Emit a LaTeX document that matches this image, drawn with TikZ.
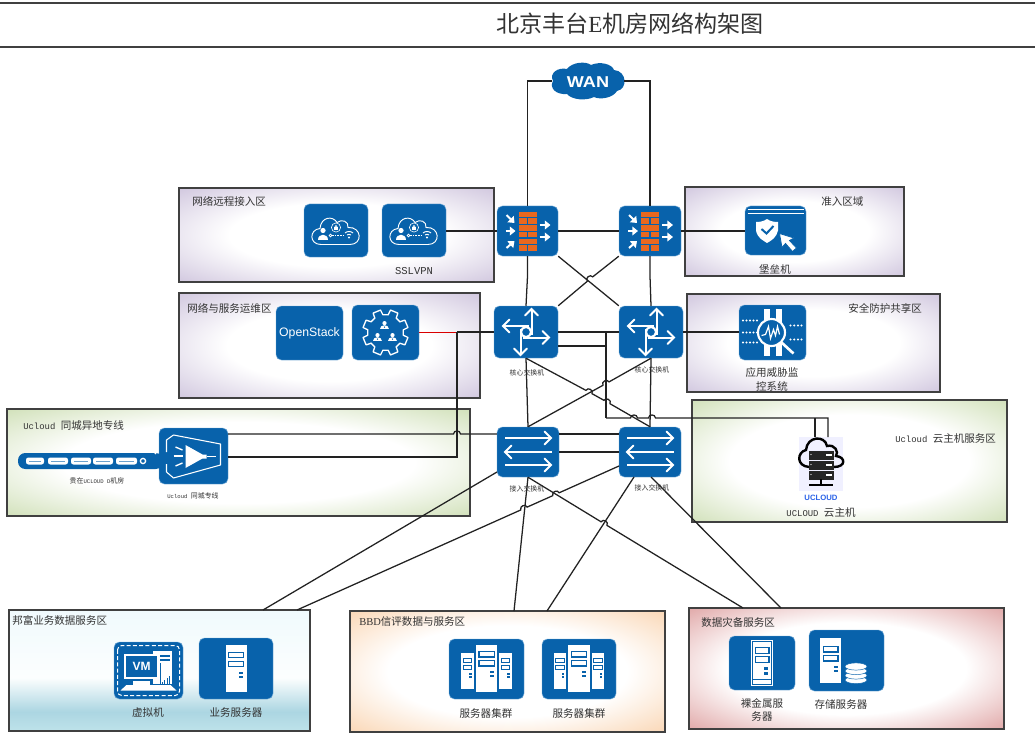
\documentclass[tikz,border=0pt]{standalone}
\usepackage{fontspec}
\setmainfont{Noto Sans CJK SC}
\newfontfamily\lat{Liberation Mono}
\newfontfamily\sans{Liberation Sans}
\newfontfamily\ser{Liberation Serif}
\usetikzlibrary{calc,arrows.meta,shapes.geometric}
\definecolor{ibl}{HTML}{0862AB}
\definecolor{ibd}{HTML}{6FA8D6}
\definecolor{ln}{HTML}{222222}
\definecolor{tx}{HTML}{333333}
\definecolor{org}{HTML}{E9681F}
\definecolor{ucb}{HTML}{2A62E8}
\definecolor{cpur}{RGB}{208,198,222}
\definecolor{cgrn}{RGB}{208,224,184}
\definecolor{cora}{RGB}{250,214,180}
\definecolor{cred}{RGB}{224,166,166}
\definecolor{bla}{RGB}{190,226,234}
\definecolor{blb}{RGB}{172,214,226}
\definecolor{blc}{RGB}{252,254,254}
\definecolor{bld}{RGB}{240,250,253}
\pgfdeclareradialshading{zpurple}{\pgfpointorigin}{color(0bp)=(white);color(17bp)=(white);color(36bp)=(cpur)}
\pgfdeclareradialshading{zgreen}{\pgfpointorigin}{color(0bp)=(white);color(19bp)=(white);color(36bp)=(cgrn)}
\pgfdeclareradialshading{zorange}{\pgfpointorigin}{color(0bp)=(white);color(19bp)=(white);color(36bp)=(cora)}
\pgfdeclareradialshading{zred}{\pgfpointorigin}{color(0bp)=(white);color(19bp)=(white);color(36bp)=(cred)}
\pgfdeclareverticalshading{zblue}{100bp}{color(0bp)=(bla);color(25bp)=(bla);color(33bp)=(blb);color(47bp)=(blc);color(75bp)=(bld);color(100bp)=(bld)}
\tikzset{
 x=0.75pt,y=-0.75pt,
 zone/.style={draw=black!75,line width=0.9pt,shading=#1,inner sep=0pt},
 iconbox/.style={draw=ibd,line width=0.35pt,fill=ibl,rounded corners=4pt,inner sep=0pt},
 conn/.style={draw=ln,line width=0.95pt,line join=miter},
 wl/.style={draw=white,line width=1.5pt},
 wthin/.style={draw=white,line width=0.7pt},
 zlabel/.style={text=tx,inner sep=0pt,font=\fontsize{7.9}{9.6}\selectfont},
 ilabel/.style={text=tx,inner sep=0pt,align=center,font=\fontsize{7.9}{10.3}\selectfont},
 tinylabel/.style={text=tx,inner sep=0pt,font=\fontsize{5.2}{6}\selectfont},
 sld/.style={-{Triangle[length=4.2pt,width=6.5pt]}},
}
\newcommand{\zonebox}[6]{% name shade x1 y1 x2 y2
 \node[zone=#2,minimum width={(#5-#3)*0.75pt},minimum height={(#6-#4)*0.75pt}] (#1) at ({(#3+#5)/2},{(#4+#6)/2}) {};}
\newcommand{\iconnode}[5]{% name x1 y1 x2 y2
 \node[iconbox,minimum width={(#4-#2)*0.75pt},minimum height={(#5-#3)*0.75pt}] (#1) at ({(#2+#4)/2},{(#3+#5)/2}) {};}
% straight connector A -- B with a hop at J, A to the left of B
\newcommand{\hopline}[3]{\draw[conn] (#1) -- ($(#2)!2.6pt!(#1)$) to[bend left=90,looseness=1.5] ($(#2)!2.6pt!(#3)$) -- (#3);}
% open arrow: rotation, start x, tip x, offset y
\newcommand{\oarr}[4]{\begin{scope}[rotate=#1]
 \draw[wl] (#2,#4) -- (#3,#4);
 \draw[wl,line cap=round,line join=miter] ({#3-6.5},{#4-6.5}) -- (#3,#4) -- ({#3-6.5},{#4+6.5});
\end{scope}}
\newcommand{\fwicon}[1]{\begin{scope}[shift={(#1.center)}]
 \foreach \yy/\sp in {-19.3/0,-12.6/1,-5.9/0,0.8/1,7.5/0,14.2/1}{
  \ifnum\sp=0 \fill[org] (-9,\yy) rectangle (9,\yy+5.4);
  \else \fill[org] (-9,\yy) rectangle (-0.7,\yy+5.4); \fill[org] (0.7,\yy) rectangle (9,\yy+5.4);\fi}
 \draw[wl,sld] (-21,-16) -- (-13,-8);
 \draw[wl,sld] (-22,0) -- (-12,0);
 \draw[wl,sld] (-21,17) -- (-13,10);
 \draw[wl,sld] (12,-6) -- (23,-6);
 \draw[wl,sld] (12,6) -- (23,6);
\end{scope}}
\newcommand{\routericon}[1]{\begin{scope}[shift={(#1.center)}]
 \oarr{0}{-3}{23}{5.5}
 \oarr{90}{-3}{23}{5.5}
 \oarr{180}{-3}{23}{6}
 \oarr{270}{-3}{23}{5.5}
 \draw[white,line width=1.5pt,fill=ibl] (0,0) circle (5);
\end{scope}}
\newcommand{\switchicon}[1]{\begin{scope}[shift={(#1.center)}]
 \oarr{0}{-23}{23}{-14}
 \oarr{180}{-24}{23}{0}
 \oarr{0}{-23}{23}{13}
\end{scope}}
\newcommand{\vpnicon}[1]{\begin{scope}[shift={(#1.center)}]
 \draw[wthin] (-15,14) .. controls (-27,14) and (-27,-1) .. (-16,-2)
   .. controls (-15,-14) and (-3,-15) .. (1,-8)
   .. controls (6,-12) and (13,-9) .. (12,-3)
   .. controls (26,-4) and (27,14) .. (14,14) -- cycle;
 \fill[white] (-13,0) circle (2.6);
 \fill[white] (-18,9) .. controls (-18,2) and (-8,2) .. (-8,9) -- cycle;
 \draw[white,line width=0.45pt] (0,-3) circle (4.6);
 \fill[white] (-2,-3.4) rectangle (2,-0.6);
 \draw[white,line width=0.55pt] (-1.2,-3.4) arc (180:0:1.2 and -1.6);
 \draw[white,line width=0.55pt] (-5.5,5) circle (1.4);
 \draw[white,line width=0.6pt,dash pattern=on 1.3pt off 0.7pt] (-4,5) -- (8,5);
 \draw[white,line width=0.7pt] (9,2.5) .. controls (11,0.5) and (15,0.5) .. (17,2.5);
 \draw[white,line width=0.7pt] (11,4.5) .. controls (12,3.5) and (14,3.5) .. (15,4.5);
 \fill[white] (13,7) circle (1.1);
\end{scope}}
\newcommand{\minipers}[2]{\fill[white] (#1,{#2-2.4}) circle (2.1);\fill[white] ({#1-4.2},{#2+3.8}) .. controls ({#1-4.2},{#2-1.5}) and ({#1+4.2},{#2-1.5}) .. ({#1+4.2},{#2+3.8}) -- cycle;\fill[ibl] (#1,{#2+1.6}) circle (0.7);}
\newcommand{\gearicon}[1]{\begin{scope}[shift={(#1.center)}]
 \foreach \i in {0,45,...,315}{
  \draw[white,line width=1pt,line join=round,line cap=round]
   ({\i+22.5-14}:18) -- ({\i+22.5-10}:23) -- ({\i+22.5+10}:23) -- ({\i+22.5+14}:18) -- ({\i+22.5+31}:18);
 }
 \minipers{-1}{-7}\minipers{-8}{5}\minipers{7}{5}
\end{scope}}
\newcommand{\bastionicon}[1]{\begin{scope}[shift={(#1.center)}]
 \draw[white,line width=0.6pt] (-28,-21) -- (28,-21);
 \draw[white,line width=0.6pt] (-28,-17.5) -- (28,-17.5);
 \fill[white] (-8.5,-11.5) .. controls (-12,-9) and (-16,-8.5) .. (-19.5,-8.5) -- (-19.5,0) .. controls (-18,8) and (-12,10) .. (-8.5,12.5) .. controls (-4,10) and (1,7) .. (2.5,0) -- (2.5,-8.5) .. controls (-1,-8.5) and (-5,-9) .. (-8.5,-11.5) -- cycle;
 \draw[ibl,line width=1.5pt] (-14,-1.5) -- (-9,3) -- (-2,-4.5);
 \fill[white,draw=ibl,line width=0.6pt] (4,3) -- (6.5,17) -- (10,13) -- (17,21) -- (21,17.5) -- (14,10) -- (18.5,7.5) -- cycle;
\end{scope}}
\newcommand{\threaticon}[1]{\begin{scope}[shift={(#1.center)}]
 \fill[white] (-8.7,-24) rectangle (-2.5,23);
 \fill[white] (3,-24) rectangle (9,23);
 \foreach \xx in {-29.5,-26,-22.5,-19,-15.5}{\foreach \yy in {-12,0,10}{\fill[white] (\xx,\yy) circle (1.15);}}
 \foreach \xx in {18,21.7,25.4,29}{\foreach \yy in {-7,7}{\fill[white] (\xx,\yy) circle (1.15);}}
 \draw[white,line width=1.6pt,fill=ibl] (-1,0) circle (13.5);
 \draw[white,line width=2pt] (9,10) -- (21,21);
 \draw[white,line width=0.9pt] (-11,3) -- (-7,2) -- (-4,-6) -- (-2,6) -- (1,-3) -- (3,3) -- (5,-6) -- (7,2);
\end{scope}}
\newcommand{\beamicon}[1]{\begin{scope}[shift={(#1.center)}]
 \draw[white,line width=0.8pt,line join=round] (-27,-4) -- (-27,-16) -- (-20,-21) -- (27,-12) -- (27,9) -- (-20,22) -- (-27,16) -- (-27,8);
 \fill[white] (-8,-11) -- (-8,12) -- (9,2.5) -- (13,2.5) -- (13,-1.5) -- (9,-1.5) -- cycle;
 \draw[white,line width=0.9pt] (13,0.5) -- (22,0.5);
 \draw[white,line width=1pt] (-18,-9) -- (-11,-6);
 \draw[white,line width=1pt] (-20,0) -- (-11,0);
 \draw[white,line width=1pt] (-18,10) -- (-11,7);
\end{scope}}
\newcommand{\serverglyph}[4]{% cx cy xscale yscale
\begin{scope}[shift={(#1,#2)},xscale=#3,yscale=#4]
 \fill[white] (-10.5,-23.5) rectangle (10.5,23.5);
 \fill[ibl] (-8,-17) rectangle (8,-10.5);\fill[white] (-6.8,-15.8) rectangle (6.8,-11.7);
 \fill[ibl] (-8,-8) rectangle (8,-1.5);\fill[white] (-6.8,-6.8) rectangle (6.8,-2.7);
 \fill[ibl] (3,3) rectangle (7,5);\fill[ibl] (3,7) rectangle (7,9);
\end{scope}}
\newcommand{\clustericon}[1]{\begin{scope}[shift={(#1.center)}]
 \serverglyph{-19}{2}{0.58}{0.77}\serverglyph{19}{2}{0.58}{0.77}
 \serverglyph{0}{-1}{1.03}{1}
\end{scope}}
\newcommand{\baremetalicon}[1]{\begin{scope}[shift={(#1.center)}]
 \fill[white] (-11,-23) rectangle (11,23);
 \fill[ibl] (-9.7,-21.7) rectangle (9.7,21.7);
 \fill[white] (-8.9,-20.9) rectangle (8.9,20.9);
 \fill[ibl] (-7.5,-16) rectangle (7.5,-9);\fill[white] (-6.4,-15) rectangle (6.4,-10);
 \fill[ibl] (-7.5,-7) rectangle (7.5,0);\fill[white] (-6.4,-6) rectangle (6.4,-1);
 \fill[ibl] (2,3.5) rectangle (6,6.5);\fill[ibl] (2,8.5) rectangle (6,11.5);
 \fill[ibl] (-8.9,16) rectangle (8.9,17);
\end{scope}}
\newcommand{\storageicon}[1]{\begin{scope}[shift={(#1.center)}]
 \begin{scope}[shift={(-16,0)}]\fill[white] (-10.5,-23) rectangle (10.5,22);
 \fill[ibl] (-8,-15) rectangle (8,-8);\fill[white] (-6.8,-13.8) rectangle (6.8,-9.2);
 \fill[ibl] (-8,-6) rectangle (8,1);\fill[white] (-6.8,-4.8) rectangle (6.8,-0.2);
 \fill[ibl] (3,5) rectangle (7,7);\fill[ibl] (3,9) rectangle (7,11);\end{scope}
 \foreach \yy in {19.5,15,10.5,6}{\fill[white,draw=ibl,line width=0.35pt] (9.5,\yy) ellipse (11 and 3.6);}
\end{scope}}
\newcommand{\vmicon}[1]{\begin{scope}[shift={(#1.center)}]
 \draw[white,line width=0.75pt,rounded corners=3.2pt,dash pattern=on 3pt off 1.7pt] (-31,-25) rectangle (31,25);
 \fill[white] (4,-20) rectangle (23,13);\fill[ibl] (7,-16) rectangle (21,-14);\fill[ibl] (7,-12) rectangle (21,-10);
 \fill[white] (-25,-17) rectangle (11,8.5);\fill[ibl] (-22.5,-14.5) rectangle (8.5,6);
 \fill[ibl] (11,-8) rectangle (12,13);
 \node[text=white,inner sep=0pt,font=\sans\bfseries\fontsize{9}{9}\selectfont] at (-7,-4) {VM};
 \fill[white] (-16,10) rectangle (1,14);
 \fill[white] (-28,20) -- (-22,14.5) -- (22,14.5) -- (28,20) -- cycle;
 \foreach \xx/\hh in {13/2,15.5/4,18/6,20.5/8}{\fill[ibl] (\xx,13) rectangle (\xx+1.3,13-\hh);}
\end{scope}}
\begin{document}
\begin{tikzpicture}
\useasboundingbox (0,0) rectangle (1035,756);
\fill[white] (0,0) rectangle (1035,756);
% title rules
\coordinate (tl1) at (0,3);\coordinate (tr1) at (1035,3);
\coordinate (tl2) at (0,47);\coordinate (tr2) at (1035,47);
\draw[black!75,line width=0.9pt] (tl1) -- (tr1);
\draw[black!75,line width=0.9pt] (tl2) -- (tr2);
\node[text=tx,inner sep=0pt,font=\fontsize{17.3}{20}\selectfont] (title) at (630,24) {北京丰台{\ser E}机房网络构架图};
% zones
\zonebox{zremote}{zpurple}{179}{188}{494}{282}
\zonebox{zops}{zpurple}{179}{293}{480}{398}
\zonebox{zadmit}{zpurple}{685}{187}{904}{276}
\zonebox{zsec}{zpurple}{687}{294}{940}{392}
\zonebox{zcloud}{zgreen}{692}{400}{1007}{522}
\zonebox{zline}{zgreen}{7}{409}{470}{516}
\zonebox{zbang}{zblue}{9}{610}{310}{731}
\zonebox{zbbd}{zorange}{350}{611}{665}{732}
\zonebox{zbak}{zred}{689}{608}{1004}{729}
% WAN cloud
\fill[ibl] (553,81) .. controls (549,73) and (558,67) .. (567,69)
 .. controls (572,62) and (586,61) .. (591,65) .. controls (600,61) and (612,64) .. (614,70)
 .. controls (627,71) and (628,89) .. (617,91) .. controls (613,98) and (600,100) .. (594,97)
 .. controls (586,101) and (572,100) .. (567,94) .. controls (556,95) and (549,88) .. (553,81) -- cycle;
\node[text=white,inner sep=0pt,xscale=1.15,font=\sans\bfseries\fontsize{11.8}{14}\selectfont] (wan) at (588,82) {WAN};
\coordinate (wanL) at (552,81);\coordinate (wanR) at (624,81);
% icon nodes
\iconnode{fwa}{497}{206}{558}{256}
\iconnode{fwb}{619}{206}{681}{256}
\iconnode{corea}{494}{306}{558}{358}
\iconnode{coreb}{619}{306}{683}{358}
\iconnode{acca}{497}{427}{559}{477}
\iconnode{accb}{619}{427}{681}{477}
\iconnode{vpna}{304}{204}{368}{257}
\iconnode{vpnb}{382}{204}{446}{257}
\iconnode{ostack}{276}{306}{343}{360}
\iconnode{gear}{352}{305}{419}{360}
\iconnode{bast}{745}{206}{806}{255}
\iconnode{threat}{739}{305}{806}{360}
\iconnode{beam}{159}{428}{228}{484}
\iconnode{vm}{114}{642}{183}{699}
\iconnode{biz}{199}{638}{273}{699}
\iconnode{cla}{449}{639}{524}{699}
\iconnode{clb}{542}{639}{616}{699}
\iconnode{bare}{729}{636}{795}{690}
\iconnode{stor}{809}{630}{884}{691}
% UCloud host
\node[fill=blue!6!white,inner sep=0pt,minimum width=33pt,minimum height=40.5pt] (uc) at (821,464) {};
\coordinate (ucA) at (815,437);\coordinate (ucB) at (828,437);
% connectors
\draw[conn] (wanL) -| (fwa.north);
\draw[conn] (wanR) -| (fwb.north);
\draw[conn] (fwa) -- (fwb);
\draw[conn] (vpnb.east |- fwa.west) -- (fwa.west);
\draw[conn] (fwb.east) -- (bast.west |- fwb.east);
\draw[conn] (fwa.south) -- ++(0,20) -- (corea.north);
\draw[conn] (fwb.south) -- ++(0,20) -- (coreb.north);
\draw[conn] (fwa.south east) -- (coreb.north west);
\coordinate (hA) at (590,279);
\hopline{corea.north east}{hA}{fwb.south west}
\draw[conn] (corea) -- (coreb);
\draw[conn] (coreb.east) -- (threat.west |- coreb.east);
\coordinate (ol) at (457,332);
\draw[draw=red!85!black,line width=0.7pt] (gear.east |- corea.west) -- (corea.west);
\draw[conn,line width=0.8pt] (ol) -- (corea.west);
\coordinate (hB) at (457,434);
\draw[conn] (beam.east |- 0,457) -- (457,457) -- (ol);
\draw[conn] (beam.east |- 0,434) -- ($(hB)!2.6pt!(beam.east |- 0,434)$) to[bend left=90,looseness=1.5] ($(hB)!2.6pt!(acca.west |- 0,434)$) -- (acca.west |- 0,434);
\draw[conn] (corea.south) -- (acca.north);
\draw[conn] (coreb.south) -- (accb.north);
\draw[conn] (acca.east |- 0,434) -- (accb.west |- 0,434);
\draw[conn] (acca.east |- 0,452) -- (accb.west |- 0,452);
% core to cloud
\coordinate (busA) at (606,332);
\draw[conn] (busA) -- (606,418);
\draw[conn] (corea.east |- 0,346) -- (606,346);
\coordinate (hC) at (634,418);\coordinate (hD) at (652,418);
\draw[conn] (606,418) -- ($(hC)!2.6pt!(606,418)$) to[bend left=90,looseness=1.5] ($(hC)!2.6pt!(hD)$) -- ($(hD)!2.6pt!(hC)$) to[bend left=90,looseness=1.5] ($(hD)!2.6pt!(ucB |- 0,418)$) -- (ucB |- 0,418) -- (ucB);
\draw[conn] (ucA |- 0,418) -- (ucA);
% diagonals core-access
\coordinate (hE) at (589,392);\coordinate (hF) at (607,402);
\draw[conn] (corea.south) -- ($(hE)!2.6pt!(corea.south)$) to[bend left=90,looseness=1.5] ($(hE)!2.6pt!(hF)$) -- ($(hF)!2.6pt!(hE)$) to[bend left=90,looseness=1.5] ($(hF)!2.6pt!(accb.north)$) -- (accb.north);
\coordinate (hG) at (606,383.6);
\hopline{acca.north}{hG}{coreb.south}
% access to zones
\coordinate (bangA) at (263,610);\coordinate (bangB) at (297,610);
\coordinate (bbdA) at (514,611);\coordinate (bbdB) at (547,611);
\coordinate (bakA) at (743,608);\coordinate (bakB) at (781,608);
\coordinate (accaBL) at (497,472);\coordinate (accbL) at (619,466);
\coordinate (accbB) at (634,477);\coordinate (accbC) at (651,477);
\draw[conn] (bangA) -- (accaBL);
\coordinate (hH) at (524,508.5);\coordinate (hJ) at (556,494.2);
\draw[conn] (bangB) -- ($(hH)!2.6pt!(bangB)$) to[bend left=90,looseness=1.5] ($(hH)!2.6pt!(hJ)$) -- ($(hJ)!2.6pt!(hH)$) to[bend left=90,looseness=1.5] ($(hJ)!2.6pt!(accbL)$) -- (accbL);
\draw[conn] (acca.south) -- (bbdA);
\coordinate (hI) at (604,523.6);
\hopline{acca.south}{hI}{bakA}
\draw[conn] (bbdB) -- (accbB);
\draw[conn] (accbC) -- (bakB);
% icons
\fwicon{fwa}\fwicon{fwb}
\routericon{corea}\routericon{coreb}
\switchicon{acca}\switchicon{accb}
\vpnicon{vpna}\vpnicon{vpnb}
\gearicon{gear}\bastionicon{bast}\threaticon{threat}\beamicon{beam}
\node[text=white,inner sep=0pt,font=\sans\fontsize{9.2}{11}\selectfont] at (ostack) {OpenStack};
\begin{scope}[shift={(biz.center)}]\serverglyph{0}{0}{1}{1}\end{scope}
\clustericon{cla}\clustericon{clb}
\baremetalicon{bare}\storageicon{stor}\vmicon{vm}
% uc icon
\begin{scope}[shift={(uc.center)}]
 \draw[black,line width=1.8pt] (-12,3) .. controls (-25,2) and (-24,-12) .. (-15,-14) .. controls (-14,-28) and (4,-29) .. (6,-18) .. controls (14,-20) and (18,-12) .. (15,-8) .. controls (25,-7) and (25,3) .. (13,3);
 \foreach \yy in {-13,-3,7}{\fill[black!85] (-12,\yy) rectangle (13,\yy+8.5);\fill[white] (5,\yy+3) rectangle (11,\yy+5);\fill[white] (-10,\yy+3.5) circle (0.7);}
 \fill[black] (-1.2,15) rectangle (1.2,22);\fill[black] (-12,19.5) rectangle (12,22);
\end{scope}
\node[text=ucb,inner sep=0pt,font=\sans\bfseries\fontsize{5.8}{6}\selectfont] (uclogo) at (821,498) {UCLOUD};
% pipe
\fill[ibl,rounded corners=5.5pt] (18,453) rectangle (163,469);
\foreach \xa/\xb in {26/44,48/68,71/91,93/113,116/137}{
 \fill[white,rounded corners=1.8pt] (\xa,457.5) rectangle (\xb,464.5);
 \draw[ibl!60!white,line width=0.5pt] (\xa+3,461) -- (\xb-3,461);}
\draw[white,line width=1pt] (143,461) circle (2.6);
\draw[white,line width=1pt] (156,454) arc (125:235:8.5);
% labels
\node[zlabel,anchor=west] (l1) at (192,201) {网络远程接入区};
\node[zlabel,anchor=west] (l2) at (187,308) {网络与服务运维区};
\node[zlabel,anchor=west] (l3) at (821,202) {准入区域};
\node[zlabel,anchor=west] (l4) at (848,308) {安全防护共享区};
\node[zlabel,anchor=west] (l5) at (895,439) {{\lat\fontsize{6.7}{9}\selectfont Ucloud }云主机服务区};
\node[zlabel,anchor=west] (l6) at (23,426) {{\lat\fontsize{6.7}{9}\selectfont Ucloud }同城异地专线};
\node[zlabel,anchor=west] (l7) at (12,620) {邦富业务数据服务区};
\node[zlabel,anchor=west] (l8) at (359,622) {{\ser BBD}信评数据与服务区};
\node[zlabel,anchor=west] (l9) at (701,622) {数据灾备服务区};
\node[ilabel] (t1) at (414,271) {\lat SSLVPN};
\node[ilabel] (t2) at (775,269) {堡垒机};
\node[ilabel] (t3) at (772,379.5) {应用威胁监\\控系统};
\node[ilabel] (t4) at (821,513) {{\lat\fontsize{6.7}{9}\selectfont UCLOUD }云主机};
\node[ilabel] (t5) at (148,712) {虚拟机};
\node[ilabel] (t6) at (236,712) {业务服务器};
\node[ilabel] (t7) at (486,713) {服务器集群};
\node[ilabel] (t8) at (579,713) {服务器集群};
\node[ilabel] (t9) at (762,710) {裸金属服\\务器};
\node[ilabel] (t10) at (841,704) {存储服务器};
\node[tinylabel] (t11) at (527,373) {核心交换机};
\node[tinylabel] (t12) at (652,370) {核心交换机};
\node[tinylabel] (t13) at (527,489) {接入交换机};
\node[tinylabel] (t14) at (652,488) {接入交换机};
\node[tinylabel] (t15) at (97,481) {贵在{\lat\fontsize{4.2}{6}\selectfont UCLOUD D}机房};
\node[tinylabel] (t16) at (193,496) {{\lat\fontsize{4.2}{6}\selectfont Ucloud }同城专线};
\end{tikzpicture}
\end{document}
